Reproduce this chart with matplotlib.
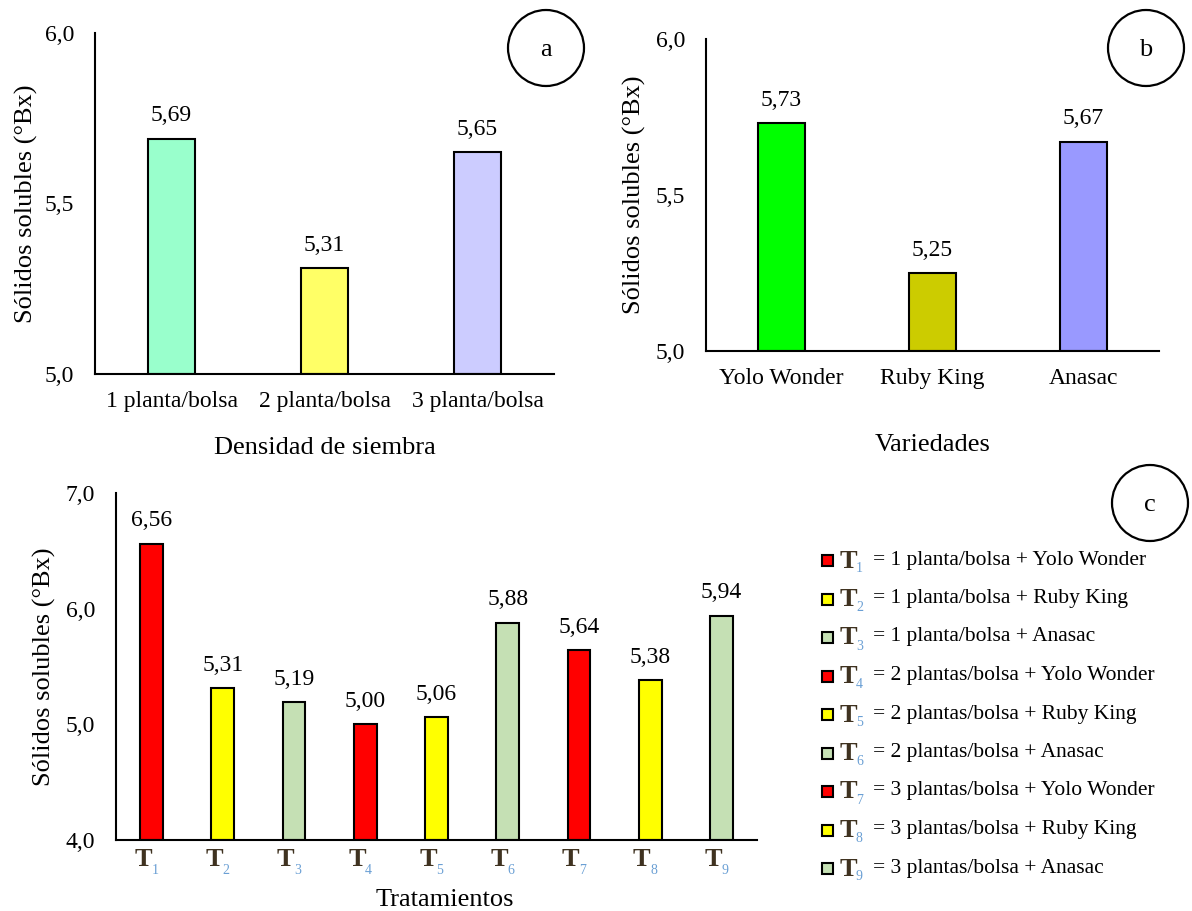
import matplotlib
matplotlib.use("Agg")
import matplotlib.pyplot as plt
from matplotlib.patches import Ellipse

plt.rcParams['font.family'] = ['Liberation Serif', 'DejaVu Serif']

# ---- data ----
dens_labels = ["1 planta/bolsa", "2 planta/bolsa", "3 planta/bolsa"]
dens_values = [5.69, 5.31, 5.65]
dens_colors = ["#99ffcc", "#ffff66", "#ccccff"]

var_labels = ["Yolo Wonder", "Ruby King", "Anasac"]
var_values = [5.73, 5.25, 5.67]
var_colors = ["#00ff00", "#cccc00", "#9999ff"]

trat_labels = ["1", "2", "3", "4", "5", "6", "7", "8", "9"]
trat_values = [6.56, 5.31, 5.19, 5.00, 5.06, 5.88, 5.64, 5.38, 5.94]
trat_colors = ["#ff0000", "#ffff00", "#c5e0b4"] * 3
legend_texts = [
    "= 1 planta/bolsa + Yolo Wonder",
    "= 1 planta/bolsa + Ruby King",
    "= 1 planta/bolsa + Anasac",
    "= 2 plantas/bolsa + Yolo Wonder",
    "= 2 plantas/bolsa + Ruby King",
    "= 2 plantas/bolsa + Anasac",
    "= 3 plantas/bolsa + Yolo Wonder",
    "= 3 plantas/bolsa + Ruby King",
    "= 3 plantas/bolsa + Anasac",
]

W, H = 1192, 911
fig = plt.figure(figsize=(W / 100, H / 100), dpi=100)


def rect(l, t, r, b):
    return [l / W, 1 - b / H, (r - l) / W, (b - t) / H]


def fmt(v, d):
    return f"{v:.{d}f}".replace(".", ",")


TICK_FS = 17
LAB_FS = 19
VAL_FS = 17
T_COLOR = "#3f3220"
SUB_COLOR = "#6a9fd4"


def style(ax, ylim, yticks, ylab_x):
    ax.set_ylim(*ylim)
    ax.set_yticks(yticks)
    ax.set_yticklabels([fmt(v, 1) for v in yticks], fontsize=TICK_FS)
    for s in ("top", "right"):
        ax.spines[s].set_visible(False)
    for s in ("left", "bottom"):
        ax.spines[s].set_linewidth(1.5)
        ax.spines[s].set_color("black")
    ax.tick_params(axis="both", length=0)
    ax.tick_params(axis="y", pad=15)
    ax.set_ylabel("Sólidos solubles (°Bx)", fontsize=LAB_FS, va="center")
    ax.yaxis.set_label_coords(ylab_x, 0.5)


def circle(cx, cy, letter):
    r = 38
    e = Ellipse((cx / W, 1 - cy / H), 2 * r / W, 2 * r / H, transform=fig.transFigure,
                fill=False, edgecolor="black", linewidth=1.6)
    fig.add_artist(e)
    fig.text(cx / W, 1 - (cy + 2) / H, letter, fontsize=LAB_FS, ha="center", va="center")


# ---- panel a ----
axa = fig.add_axes(rect(95, 33, 554, 374))
xa = range(len(dens_values))
axa.bar(xa, [v - 5.0 for v in dens_values], bottom=5.0, width=0.31, color=dens_colors,
        edgecolor="black", linewidth=1.5)
axa.set_xlim(-0.5, 2.5)
style(axa, (5.0, 6.0), [5.0, 5.5, 6.0], -0.15)
axa.set_xticks(list(xa))
axa.set_xticklabels(dens_labels, fontsize=TICK_FS)
axa.tick_params(axis="x", pad=12)
axa.set_xlabel("Densidad de siembra", fontsize=LAB_FS, labelpad=18)
for i, v in enumerate(dens_values):
    axa.annotate(fmt(v, 2), (i, v), xytext=(0, 9), textcoords="offset points",
                 ha="center", va="bottom", fontsize=VAL_FS)
circle(546, 48, "a")

# ---- panel b ----
axb = fig.add_axes(rect(706, 39, 1159, 351))
xb = range(len(var_values))
axb.bar(xb, [v - 5.0 for v in var_values], bottom=5.0, width=0.31, color=var_colors,
        edgecolor="black", linewidth=1.5)
axb.set_xlim(-0.5, 2.5)
style(axb, (5.0, 6.0), [5.0, 5.5, 6.0], -0.159)
axb.set_xticks(list(xb))
axb.set_xticklabels(var_labels, fontsize=TICK_FS)
axb.tick_params(axis="x", pad=12)
axb.set_xlabel("Variedades", fontsize=LAB_FS, labelpad=33)
for i, v in enumerate(var_values):
    axb.annotate(fmt(v, 2), (i, v), xytext=(0, 9), textcoords="offset points",
                 ha="center", va="bottom", fontsize=VAL_FS)
circle(1146, 48, "b")

# ---- panel c ----
axc = fig.add_axes(rect(116, 493, 757, 840))
xc = range(len(trat_values))
axc.bar(xc, [v - 4.0 for v in trat_values], bottom=4.0, width=0.32, color=trat_colors,
        edgecolor="black", linewidth=1.5)
axc.set_xlim(-0.5, 8.5)
style(axc, (4.0, 7.0), [4.0, 5.0, 6.0, 7.0], -0.111)
axc.set_xticks(list(xc))
axc.set_xticklabels([""] * len(trat_values))
for i, lab in enumerate(trat_labels):
    axc.annotate("T", (i, 0), xycoords=("data", "axes fraction"), xytext=(-6, -6),
                 textcoords="offset points", ha="center", va="top", fontsize=19,
                 color=T_COLOR, fontweight="bold")
    axc.annotate(lab, (i, 0), xycoords=("data", "axes fraction"), xytext=(2.5, -27),
                 textcoords="offset points", ha="center", va="bottom", fontsize=10,
                 color=SUB_COLOR)
axc.set_xlabel("Tratamientos", fontsize=LAB_FS, va="center")
axc.xaxis.set_label_coords((445 - 116) / 641, -(900 - 840) / 347)
for i, v in enumerate(trat_values):
    axc.annotate(fmt(v, 2), (i, v), xytext=(0, 9), textcoords="offset points",
                 ha="center", va="bottom", fontsize=VAL_FS)
circle(1150, 503, "c")

# legend for panel c
y0 = 560
dy = 38.5
for k, txt in enumerate(legend_texts):
    y = y0 + k * dy
    fig.patches.append(plt.Rectangle((822 / W, 1 - (y + 6) / H), 11 / W, 11 / H,
                                     transform=fig.transFigure, facecolor=trat_colors[k],
                                     edgecolor="black", linewidth=1.5))
    fig.text(840 / W, 1 - (y + 1) / H, "T", fontsize=19, color=T_COLOR,
             ha="left", va="center", fontweight="bold")
    fig.text(856 / W, 1 - (y + 9) / H, trat_labels[k], fontsize=10, color=SUB_COLOR,
             ha="left", va="center")
    fig.text(873 / W, 1 - y / H, txt, fontsize=15.5, ha="left", va="center")

fig.savefig("out.png", dpi=100)
